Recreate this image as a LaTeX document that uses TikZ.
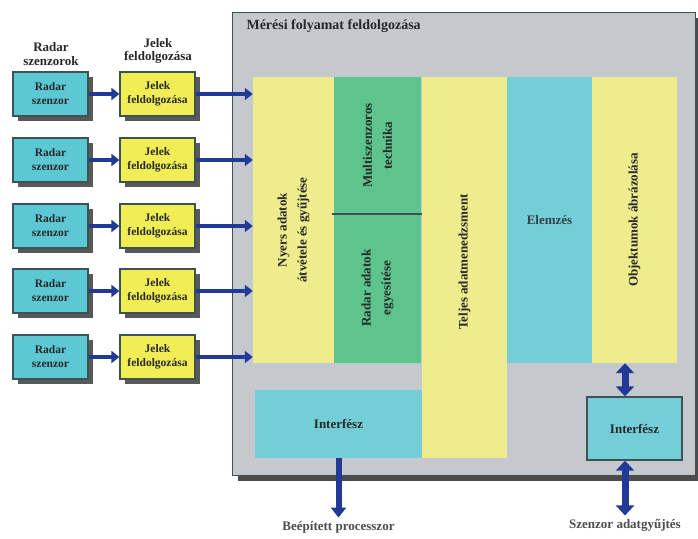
\documentclass[tikz,border=0pt]{standalone}
\usepackage{fontspec}
\setmainfont{Liberation Serif}
\usetikzlibrary{arrows.meta,shadows}

\definecolor{radarcyan}{RGB}{92,200,212}
\definecolor{jelyellow}{RGB}{240,238,84}
\definecolor{colyellow}{RGB}{238,236,140}
\definecolor{colgreen}{RGB}{92,196,140}
\definecolor{colcyan}{RGB}{116,206,216}
\definecolor{panelgray}{RGB}{197,200,205}
\definecolor{flowblue}{RGB}{32,58,150}
\definecolor{boxedge}{RGB}{62,82,84}
\definecolor{txtdark}{RGB}{40,40,40}

\tikzset{
  srcbox/.style={draw=boxedge, line width=1.2pt, minimum width=75pt, minimum height=44pt,
    inner sep=1pt, align=center, text=txtdark, font=\bfseries\fontsize{11.5}{14}\selectfont,
    drop shadow={shadow xshift=5pt,shadow yshift=-5pt,fill=black!65,opacity=1}},
  col/.style={inner sep=0pt, minimum width=85pt},
  vlabel/.style={rotate=90, align=center, text=txtdark, font=\bfseries\fontsize{13}{20}\selectfont},
  hlabel/.style={align=center, text=txtdark, font=\bfseries\fontsize{13}{13.5}\selectfont},
  flow/.style={draw=flowblue, line width=4.5pt, -{Triangle[length=8pt,width=12pt]}},
  dblflow/.style={draw=flowblue, line width=7pt, {Triangle[length=10pt,width=18pt]}-{Triangle[length=10pt,width=18pt]}},
}

\begin{document}
\begin{tikzpicture}[x=1pt,y=-1pt]
    \useasboundingbox (0,0) rectangle (698,538);
    \fill[white] (0,0) rectangle (698,538);

    % Main panel
    \node[draw=boxedge, line width=1.4pt, fill=panelgray, minimum width=463pt, minimum height=463pt,
      anchor=north west, drop shadow={shadow xshift=5pt,shadow yshift=-5pt,fill=black!70,opacity=1}]
      (main) at (232,12) {};
    \node[hlabel, anchor=west, font=\bfseries\fontsize{14}{15}\selectfont] (title) at (243,26) {Mérési folyamat feldolgozása};

    % Columns
    \node[col, fill=colyellow, minimum width=81pt, minimum height=286pt] (nyers) at (293.5,220) {};
    \node[vlabel] at (293.5,230) {Nyers adatok\\átvétele és gyűjtése};
    \node[col, fill=colgreen, minimum width=87pt, minimum height=137pt] (multi) at (377.5,145.5) {};
    \node[vlabel] at (multi) {Multiszenzoros\\technika};
    \node[col, fill=colgreen, minimum width=87pt, minimum height=149pt] (egyes) at (377.5,288.5) {};
    \node[vlabel] at (377.5,288) {Radar adatok\\egyesítése};
    \draw[boxedge, line width=1.5pt] ([xshift=-2pt]multi.south west) -- ([xshift=4pt]multi.south east);
    \node[col, fill=colyellow, minimum height=381pt] (teljes) at (464.5,267.5) {};
    \node[vlabel] at (464.5,262) {Teljes adatmenedzsment};
    \node[col, fill=colcyan, minimum height=286pt] (elemzes) at (549.5,220) {};
    \node[hlabel, text=boxedge!80!black] at (elemzes) {Elemzés};
    \node[col, fill=colyellow, minimum height=286pt] (objekt) at (634.5,220) {};
    \node[vlabel] at (objekt) {Objektumok ábrázolása};

    % Interfaces
    \node[col, fill=colcyan, minimum width=167pt, minimum height=68pt, hlabel] (intbe) at (338.5,424) {Interfész};
    \node[fill=colcyan, draw=boxedge, line width=1.4pt, minimum width=95pt, minimum height=63pt, hlabel]
      (intsz) at (634.5,428.5) {Interfész};

    % Outputs
    \node[hlabel, text=black!70] (bep) at (338.5,527) {Beépített processzor};
    \node[hlabel, text=black!70] (szenzor) at (625,525) {Szenzor adatgyűjtés};
    \draw[flow, line width=6pt, -{Triangle[length=10pt,width=15pt]}] (intbe) -- (bep);
    \draw[dblflow] (objekt.south -| szenzor) -- (intsz.north -| szenzor);
    \draw[dblflow] (intsz.south -| szenzor) -- (szenzor);

    % Sensor rows
    \node[hlabel] (radhead) at (51,54) {Radar\\szenzorok};
    \node[hlabel] (jelhead) at (158,51) {Jelek\\feldolgozása};
    \foreach \i/\y in {1/94,2/160,3/226,4/291,5/357} {
      \node[srcbox, fill=radarcyan] (r\i) at (50.5,\y) {Radar\\szenzor};
      \node[srcbox, fill=jelyellow] (j\i) at (157.5,\y) {Jelek\\feldolgozása};
      \draw[flow] (r\i) -- (j\i);
      \draw[flow] (j\i) -- (j\i -| nyers.west);
    }
\end{tikzpicture}
\end{document}
